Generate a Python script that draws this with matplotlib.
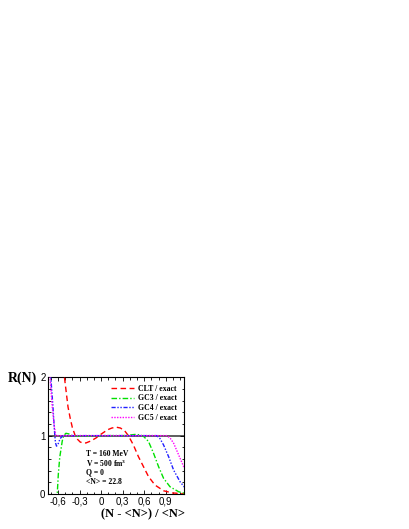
import matplotlib
matplotlib.use("Agg")
import matplotlib.pyplot as plt
from matplotlib.ticker import MultipleLocator

plt.rcParams['font.family'] = ['Liberation Serif', 'DejaVu Serif']
plt.rcParams['mathtext.fontset'] = 'custom'
plt.rcParams['mathtext.rm'] = 'Liberation Serif'
plt.rcParams['mathtext.bf'] = 'Liberation Serif:bold'

# ---- data ----
clt_x = [-0.53, -0.51, -0.46, -0.43, -0.40, -0.36, -0.33, -0.29, -0.25, -0.21, -0.14, -0.07, -0.03,
         0.03, 0.09, 0.15, 0.21, 0.27, 0.33, 0.38, 0.45, 0.52, 0.59, 0.66, 0.75, 0.87, 0.99, 1.16]
clt_y = [2.3, 2.0, 1.49, 1.30, 1.14, 1.0, 0.94, 0.89, 0.875, 0.875, 0.91, 0.96, 1.0,
         1.05, 1.10, 1.13, 1.145, 1.13, 1.08, 1.0, 0.84, 0.64, 0.47, 0.30, 0.155, 0.057, 0.02, 0.005]

gc3_x = [-0.62, -0.61, -0.595, -0.575, -0.54, -0.52, -0.49, -0.45, -0.40, -0.30, 0.0, 0.30,
         0.40, 0.47, 0.54, 0.59, 0.66, 0.73, 0.80, 0.87, 0.96, 1.08, 1.16]
gc3_y = [-0.3, 0.0, 0.34, 0.63, 0.91, 1.0, 1.04, 1.03, 1.0, 0.99, 1.0, 1.0,
         1.01, 1.02, 1.015, 0.99, 0.90, 0.70, 0.47, 0.27, 0.125, 0.04, 0.015]

gc4_x = [-0.72, -0.70, -0.67, -0.65, -0.635, -0.62, -0.60, -0.57, -0.53, -0.45, 0.0, 0.5,
         0.70, 0.775, 0.82, 0.87, 0.94, 1.01, 1.10, 1.16]
gc4_y = [2.3, 2.0, 1.5, 1.1, 0.88, 0.82, 0.85, 0.95, 1.0, 1.0, 1.0, 1.0,
         1.0, 1.0, 0.95, 0.84, 0.64, 0.41, 0.21, 0.12]

gc5_x = [-0.725, -0.71, -0.68, -0.65, -0.63, -0.5, 0.0, 0.5, 0.85, 0.915, 0.96, 1.01, 1.08, 1.16]
gc5_y = [2.3, 2.0, 1.5, 1.15, 1.0, 1.0, 1.0, 1.0, 1.0, 1.0, 0.96, 0.87, 0.67, 0.44]

labels = ["CLT / exact", "GC3 / exact", "GC4 / exact", "GC5 / exact"]
xtick_vals = [-0.6, -0.3, 0.0, 0.3, 0.6, 0.9]
xtick_labels = ["-0,6", "-0,3", "0", "0,3", "0,6", "0,9"]
ytick_vals = [0, 1, 2]
ytick_labels = ["0", "1", "2"]
info_lines = ["T = 160 MeV", r"V = 500 fm$^{\mathbf{3}}$", "Q = 0", "<N> = 22.8"]

# ---- figure ----
fig = plt.figure(figsize=(4.09, 5.29), dpi=100)
ax = fig.add_axes([0.118, 0.066, 0.332, 0.221])

ax.axhline(1.0, color='#505050', lw=1.3, zorder=1)
ax.plot(clt_x, clt_y, color='#ff0000', lw=1.0, dashes=(4, 2.5), label=labels[0], zorder=3)
ax.plot(gc3_x, gc3_y, color='#00e000', lw=1.0, dashes=(4, 1.5, 1, 1.5), label=labels[1], zorder=3)
ax.plot(gc4_x, gc4_y, color='#2020ff', lw=1.0, dashes=(3, 1.2, 1, 1.2, 1, 1.2), label=labels[2], zorder=3)
ax.plot(gc5_x, gc5_y, color='#ff00ff', lw=1.0, dashes=(1, 1), label=labels[3], zorder=3)

ax.set_xlim(-0.735, 1.155)
ax.set_ylim(0, 2)
ax.set_xticks(xtick_vals)
ax.set_xticklabels(xtick_labels, family=['Liberation Sans', 'DejaVu Sans'])
ax.set_yticks(ytick_vals)
ax.set_yticklabels(ytick_labels, family=['Liberation Sans', 'DejaVu Sans'])
ax.xaxis.set_minor_locator(MultipleLocator(0.1))
ax.yaxis.set_minor_locator(MultipleLocator(0.2))
ax.tick_params(which='both', direction='in', top=True, right=True, labelsize=7, width=0.6)
ax.tick_params(which='major', length=3, pad=2)
ax.tick_params(which='minor', length=1.8)
for s in ax.spines.values():
    s.set_linewidth(0.8)

leg = ax.legend(loc='upper right', frameon=False, prop={'size': 5.6, 'weight': 'bold'},
                handlelength=2.9, handletextpad=0.5, labelspacing=0.22,
                borderaxespad=0.55)

for i, t in enumerate(info_lines):
    ax.text(0.278, 0.345 - i * 0.08, t, transform=ax.transAxes, fontsize=5.5,
            fontweight='bold', va='center', ha='left')

fig.text(0.020, 0.278, "R(N)", fontsize=10, fontweight='bold', ha='left', va='baseline')
fig.text(0.350, 0.027, "(N - <N>) / <N>", fontsize=9, fontweight='bold', ha='center', va='center')

fig.savefig("out.png", dpi=100)
